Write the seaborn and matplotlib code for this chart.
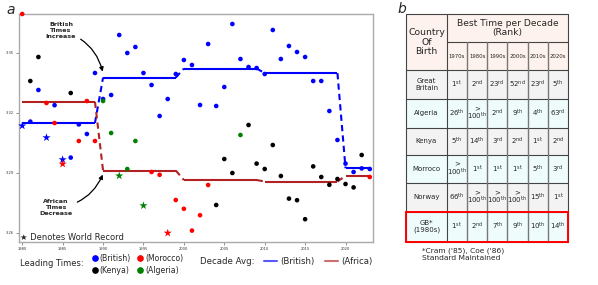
import matplotlib
matplotlib.use("Agg")
import matplotlib.pyplot as plt
import numpy as np
import pandas as pd
import seaborn as sns
from matplotlib.lines import Line2D
from matplotlib.patches import Rectangle

# ---------------- data (1500 m yearly leading times, seconds) ----------------
years = list(range(1980, 2024))
british_times = [
    211.36, 211.57, 213.15, 210.77, 212.39, 209.67, 209.77, 211.43, 210.95, 214.00,
    212.70, 212.90, 215.90, 215.00, 215.30, 214.00, 213.40, 211.85, 212.70, 213.95,
    214.65, 214.40, 212.40, 215.45, 212.35, 213.30, 216.45, 214.70, 214.30, 214.25,
    213.95, 216.15, 214.70, 215.35, 215.05, 214.80, 213.60, 213.60, 212.10, 210.65,
    209.47, 209.05, 209.23, 209.20,
]
british_record_years = [1980, 1983, 1985]
african_times = [
    216.95, 213.60, 214.80, 212.50, 211.50, 209.45, 213.00, 210.60, 212.60, 210.60,
    212.60, 211.00, 208.86, 209.20, 210.60, 207.37, 209.05, 208.91, 206.00, 207.65,
    207.21, 206.12, 206.89, 208.40, 207.40, 209.70, 209.00, 210.90, 211.40, 209.47,
    209.20, 210.40, 208.85, 207.72, 207.64, 206.69, 209.33, 208.80, 208.41, 208.70,
    208.45, 208.28, 209.90, 208.80,
]
african_country = [
    "Morocco", "Kenya", "Kenya", "Morocco", "Morocco", "Morocco", "Kenya", "Morocco", "Morocco", "Morocco",
    "Algeria", "Algeria", "Algeria", "Algeria", "Algeria", "Algeria", "Morocco", "Morocco", "Morocco", "Morocco",
    "Morocco", "Morocco", "Morocco", "Morocco", "Kenya", "Kenya", "Kenya", "Algeria", "Kenya", "Kenya",
    "Kenya", "Kenya", "Kenya", "Kenya", "Kenya", "Kenya", "Kenya", "Kenya", "Kenya", "Kenya",
    "Kenya", "Kenya", "Kenya", "Morocco",
]
african_record_years = [1985, 1992, 1995, 1998]

y_ticks = [215, 212, 209, 206]
y_tick_labels = ["3:35", "3:32", "3:29", "3:26"]
x_ticks = [1980, 1985, 1990, 1995, 2000, 2005, 2010, 2015, 2020]

table_countries = ["Great\nBritain", "Algeria", "Kenya", "Morroco", "Norway", "GB*\n(1980s)"]
table_decades = ["1970s", "1980s", "1990s", "2000s", "2010s", "2020s"]
table_ranks = [
    ["1st", "2nd", "23rd", "52nd", "23rd", "5th"],
    ["26th", ">100th", "2nd", "9th", "4th", "63rd"],
    ["5th", "14th", "3rd", "2nd", "1st", "2nd"],
    [">100th", "1st", "1st", "1st", "5th", "3rd"],
    ["66th", ">100th", ">100th", ">100th", "15th", "1st"],
    ["1st", "2nd", "7th", "9th", "10th", "14th"],
]

palette = {"British": "blue", "Morocco": "red", "Kenya": "black", "Algeria": "green"}
africa_line_color = "firebrick"

# ---------------- long table ----------------
df_b = pd.DataFrame({"year": years, "time": british_times, "country": "British",
                     "group": "British"})
df_b["record"] = df_b["year"].isin(british_record_years)
df_a = pd.DataFrame({"year": years, "time": african_times, "country": african_country,
                     "group": "Africa"})
df_a["record"] = df_a["year"].isin(african_record_years)
df = pd.concat([df_b, df_a], ignore_index=True)
df["decade"] = (df["year"] // 10) * 10
dec_avg = df.groupby(["group", "decade"])["time"].mean()

# ---------------- figure ----------------
sns.set_style("white")
plt.rcParams["font.family"] = ["DejaVu Sans"]
W, H = 598, 285
fig = plt.figure(figsize=(W / 100, H / 100), dpi=100)
ax = fig.add_axes([19 / W, 1 - 242 / H, (373 - 19) / W, (242 - 14) / H])
ov = fig.add_axes([0, 0, 1, 1], zorder=5)
ov.set_xlim(0, W)
ov.set_ylim(H, 0)
ov.axis("off")
ov.patch.set_visible(False)

# decade average lines
for grp, col in [("British", "blue"), ("Africa", africa_line_color)]:
    s = dec_avg.loc[grp]
    decs = list(s.index)
    for i, d in enumerate(decs):
        yrs = [y for y in years if d <= y <= d + 9]
        ax.plot(yrs, [s[d]] * len(yrs), color=col, lw=1.5, zorder=2, solid_capstyle="butt")
        if i + 1 < len(decs):
            ax.plot([d + 9, d + 10], [s[d], s[decs[i + 1]]], color=col, lw=1.5,
                    ls=(0, (3, 2)), zorder=2)

sns.scatterplot(data=df, x="year", y="time", hue="country", palette=palette,
                style="record", markers={False: "o", True: "*"},
                size="record", sizes={False: 11, True: 38},
                linewidth=0, legend=False, ax=ax, zorder=3, clip_on=False)

ax.set_xlim(1979.6, 2023.4)
ax.set_ylim(205.55, 216.95)
ax.set_xticks(x_ticks)
ax.set_xticklabels([str(x) for x in x_ticks])
ax.set_yticks(y_ticks)
ax.set_yticklabels(y_tick_labels)
ax.set_xlabel("")
ax.set_ylabel("")
ax.tick_params(axis="both", length=2, width=0.5, color="#666666", labelsize=2.6,
               pad=1.5, labelcolor="#333333", left=True, bottom=True)
for sp in ax.spines.values():
    sp.set_color("#aaaaaa")
    sp.set_linewidth(1.0)

# annotations
ax.annotate("British\nTimes\nIncrease", xy=(1989.95, 214.07), xytext=(1984.8, 216.1),
            ha="center", va="center", fontsize=4.6, fontweight="bold", linespacing=1.25,
            arrowprops=dict(arrowstyle="-|>", connectionstyle="arc3,rad=-0.3",
                            color="black", lw=0.9, mutation_scale=6, shrinkA=1, shrinkB=0))
ax.annotate("African\nTimes\nDecrease", xy=(1989.96, 208.92), xytext=(1984.2, 207.28),
            ha="center", va="center", fontsize=4.6, fontweight="bold", linespacing=1.25,
            arrowprops=dict(arrowstyle="-|>", connectionstyle="arc3,rad=0.3",
                            color="black", lw=0.9, mutation_scale=6, shrinkA=1, shrinkB=0))

ov.text(20, 237.5, "\u2605 Denotes World Record", fontsize=6, va="center", ha="left")
ov.text(11, 10, "a", fontsize=10, style="italic", ha="center", va="center")
ov.text(401.5, 9, "b", fontsize=10, style="italic", ha="center", va="center")

# legends
ov.text(20, 263.3, "Leading Times:", fontsize=6, va="center", ha="left")
lead_handles = [Line2D([], [], marker="o", ls="", color=palette[k], markersize=3.8)
                for k in ["British", "Kenya", "Morocco", "Algeria"]]
lead_labels = ["(British)", "(Kenya)", "(Morocco)", "(Algeria)"]
fig.legend(lead_handles, lead_labels, loc="center left", bbox_to_anchor=(91.5, 264.5),
           bbox_transform=ov.transData, ncol=2, frameon=False, fontsize=5.6,
           handlelength=0.8, handletextpad=0.25, columnspacing=0.8, labelspacing=0.35,
           borderpad=0, borderaxespad=0)
ov.text(200, 261.7, "Decade Avg:", fontsize=6.2, va="center", ha="left")
dec_handles = [Line2D([], [], color="blue", lw=1.5, alpha=0.65),
               Line2D([], [], color=africa_line_color, lw=1.5, alpha=0.65)]
fig.legend(dec_handles, ["(British)", "(Africa)"], loc="center left",
           bbox_to_anchor=(264, 261.7), bbox_transform=ov.transData, ncol=2,
           frameon=False, fontsize=6.2, handlelength=1.5, handletextpad=0.4,
           columnspacing=1.2, borderpad=0, borderaxespad=0)

# ---------------- table (panel b) ----------------
col_x = [406.3, 446.7, 467.0, 487.3, 507.3, 527.7, 547.7, 568.3]
row_y = [14.3, 42.3, 70.0, 99.0, 127.7, 155.0, 183.3, 211.7, 241.7]
ov.add_patch(Rectangle((col_x[0], row_y[0]), col_x[-1] - col_x[0], row_y[2] - row_y[0],
                       facecolor="#fdf2ed", edgecolor="none"))
row_colors = ["#f3f3f3", "#effcfc"]
for i in range(6):
    ov.add_patch(Rectangle((col_x[0], row_y[i + 2]), col_x[-1] - col_x[0],
                           row_y[i + 3] - row_y[i + 2], facecolor=row_colors[i % 2],
                           edgecolor="none"))
lc = "#444444"
ov.plot([col_x[0], col_x[-1]], [row_y[0], row_y[0]], color=lc, lw=0.8)
ov.plot([col_x[1], col_x[-1]], [row_y[1], row_y[1]], color=lc, lw=0.8)
for yy in row_y[2:]:
    ov.plot([col_x[0], col_x[-1]], [yy, yy], color=lc, lw=0.8)
ov.plot([col_x[0], col_x[0]], [row_y[0], row_y[-1]], color=lc, lw=0.8)
ov.plot([col_x[1], col_x[1]], [row_y[0], row_y[-1]], color=lc, lw=0.8)
ov.plot([col_x[-1], col_x[-1]], [row_y[0], row_y[-1]], color=lc, lw=0.8)
for xx in col_x[2:-1]:
    ov.plot([xx, xx], [row_y[1], row_y[-1]], color="#777777", lw=1.0)
ov.add_patch(Rectangle((col_x[0], row_y[-2]), col_x[-1] - col_x[0], row_y[-1] - row_y[-2],
                       facecolor="none", edgecolor="red", lw=1.4, zorder=4))

cx0 = (col_x[0] + col_x[1]) / 2
ov.text(cx0, (row_y[0] + row_y[2]) / 2, "Country\nOf\nBirth", ha="center", va="center",
        fontsize=6.7, linespacing=1.1)
ov.text((col_x[1] + col_x[-1]) / 2, (row_y[0] + row_y[1]) / 2,
        "Best Time per Decade\n(Rank)", ha="center", va="center", fontsize=6.6,
        linespacing=1.05)
for j, dname in enumerate(table_decades):
    ov.text((col_x[j + 1] + col_x[j + 2]) / 2, (row_y[1] + row_y[2]) / 2, dname,
            ha="center", va="center", fontsize=3.9)


def fmt_rank(r):
    suf = r[-2:]
    if r.startswith(">"):
        return ">\n" + r[1:-2] + r"$^{\mathrm{" + suf + "}}$"
    return r[:-2] + r"$^{\mathrm{" + suf + "}}$"


for i, cname in enumerate(table_countries):
    yc = (row_y[i + 2] + row_y[i + 3]) / 2
    ov.text(cx0, yc, cname, ha="center", va="center", fontsize=5.0, linespacing=1.15)
    for j, r in enumerate(table_ranks[i]):
        ov.text((col_x[j + 1] + col_x[j + 2]) / 2, yc, fmt_rank(r), ha="center",
                va="center", fontsize=5.0, linespacing=0.95)

ov.text(422.3, 254, "*Cram ('85), Coe ('86)\nStandard Maintained", ha="left", va="center",
        fontsize=5.4, linespacing=1.2)

fig.savefig("out.png", dpi=100)
